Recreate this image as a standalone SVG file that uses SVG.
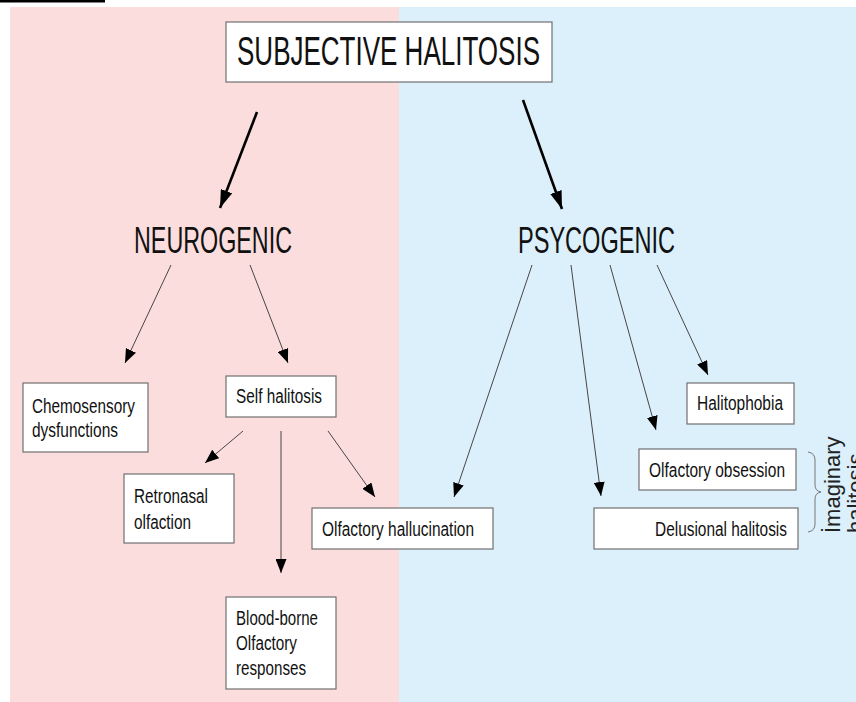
<svg xmlns="http://www.w3.org/2000/svg" width="856" height="702" viewBox="0 0 856 702">
<style>
.box{fill:#ffffff;stroke:#707070;stroke-width:1.2}
.t{font-family:"Liberation Sans Narrow","Liberation Sans",Arial,sans-serif;fill:#111;font-size:19.5px}
.big{font-family:"Liberation Sans Narrow","Liberation Sans",Arial,sans-serif;fill:#111}
.thin{stroke:#4a4444;stroke-width:1;fill:none;marker-end:url(#ah)}
.thick{stroke:#000;stroke-width:2.6;fill:none;marker-end:url(#ahb)}
</style>
<defs>
<marker id="ah" markerUnits="userSpaceOnUse" markerWidth="14" markerHeight="11" refX="14" refY="5.5" orient="auto"><path d="M0,0 L14,5.5 L0,11 z" fill="#000"/></marker>
<marker id="ahb" markerUnits="userSpaceOnUse" markerWidth="18" markerHeight="12" refX="18" refY="6" orient="auto"><path d="M0,0 L18,6 L0,12 z" fill="#000"/></marker>
</defs>
<rect x="0" y="0" width="856" height="702" fill="#ffffff"/>
<rect x="0" y="0" width="105" height="2.5" fill="#000"/>
<rect x="10" y="7" width="389" height="695" fill="#fcdddd"/>
<rect x="399" y="7" width="457" height="695" fill="#dcf0fb"/>

<g id="connectors">
<line class="thick" x1="257" y1="112" x2="220" y2="208"/>
<line class="thick" x1="523" y1="100" x2="562" y2="209"/>
<line class="thin" x1="171" y1="265" x2="125" y2="363"/>
<line class="thin" x1="250" y1="265" x2="288" y2="363"/>
<line class="thin" x1="243" y1="431" x2="205" y2="463"/>
<line class="thin" x1="281" y1="431" x2="281" y2="573"/>
<line class="thin" x1="328" y1="431" x2="375" y2="497"/>
<line class="thin" x1="532" y1="265" x2="454" y2="497"/>
<line class="thin" x1="571" y1="265" x2="601" y2="496"/>
<line class="thin" x1="610" y1="265" x2="656" y2="430"/>
<line class="thin" x1="657" y1="265" x2="708" y2="375"/>
<path d="M808,452 Q815,453 815,460 L815,485 Q815,491 821,492 Q815,493 815,499 L815,524 Q815,531 808,532" fill="none" stroke="#777" stroke-width="1"/>
</g>

<g id="title">
<rect class="box" x="226" y="22" width="326" height="60"/>
<text class="big" x="237" y="65" font-size="40" textLength="303" lengthAdjust="spacingAndGlyphs">SUBJECTIVE HALITOSIS</text>
</g>
<g id="neurogenic">
<text class="big" x="134" y="253" font-size="36" textLength="158" lengthAdjust="spacingAndGlyphs">NEUROGENIC</text>
</g>
<g id="psycogenic">
<text class="big" x="518" y="253" font-size="36" textLength="157" lengthAdjust="spacingAndGlyphs">PSYCOGENIC</text>
</g>
<g id="chemosensory">
<rect class="box" x="23" y="383" width="125" height="69"/>
<text class="t" x="32" y="413" textLength="103" lengthAdjust="spacingAndGlyphs">Chemosensory</text>
<text class="t" x="32" y="437" textLength="86" lengthAdjust="spacingAndGlyphs">dysfunctions</text>
</g>
<g id="self-halitosis">
<rect class="box" x="226" y="376" width="110" height="41"/>
<text class="t" x="236" y="403" textLength="86" lengthAdjust="spacingAndGlyphs">Self halitosis</text>
</g>
<g id="retronasal">
<rect class="box" x="124" y="474" width="110" height="69"/>
<text class="t" x="134" y="503" textLength="74" lengthAdjust="spacingAndGlyphs">Retronasal</text>
<text class="t" x="134" y="529" textLength="57" lengthAdjust="spacingAndGlyphs">olfaction</text>
</g>
<g id="blood-borne">
<rect class="box" x="226" y="597" width="110" height="92"/>
<text class="t" x="236" y="625" textLength="82" lengthAdjust="spacingAndGlyphs">Blood-borne</text>
<text class="t" x="236" y="650" textLength="61" lengthAdjust="spacingAndGlyphs">Olfactory</text>
<text class="t" x="236" y="675" textLength="70" lengthAdjust="spacingAndGlyphs">responses</text>
</g>
<g id="olfactory-hallucination">
<rect class="box" x="312" y="508" width="181" height="41"/>
<text class="t" x="322" y="536" textLength="152" lengthAdjust="spacingAndGlyphs">Olfactory hallucination</text>
</g>
<g id="halitophobia">
<rect class="box" x="687" y="383" width="107" height="41"/>
<text class="t" x="697" y="410" textLength="86" lengthAdjust="spacingAndGlyphs">Halitophobia</text>
</g>
<g id="olfactory-obsession">
<rect class="box" x="639" y="449" width="157" height="41"/>
<text class="t" x="649" y="477" textLength="136" lengthAdjust="spacingAndGlyphs">Olfactory obsession</text>
</g>
<g id="delusional-halitosis">
<rect class="box" x="594" y="508" width="204" height="41"/>
<text class="t" x="655" y="536" textLength="132" lengthAdjust="spacingAndGlyphs">Delusional halitosis</text>
</g>
<g id="imaginary-halitosis">
<text transform="translate(840,533) rotate(-90)" font-family="'Liberation Sans',Arial,sans-serif" font-size="22" fill="#222">İmaginary</text>
<text transform="translate(863,533) rotate(-90)" font-family="'Liberation Sans',Arial,sans-serif" font-size="22" fill="#222">halitosis</text>
</g>
</svg>
